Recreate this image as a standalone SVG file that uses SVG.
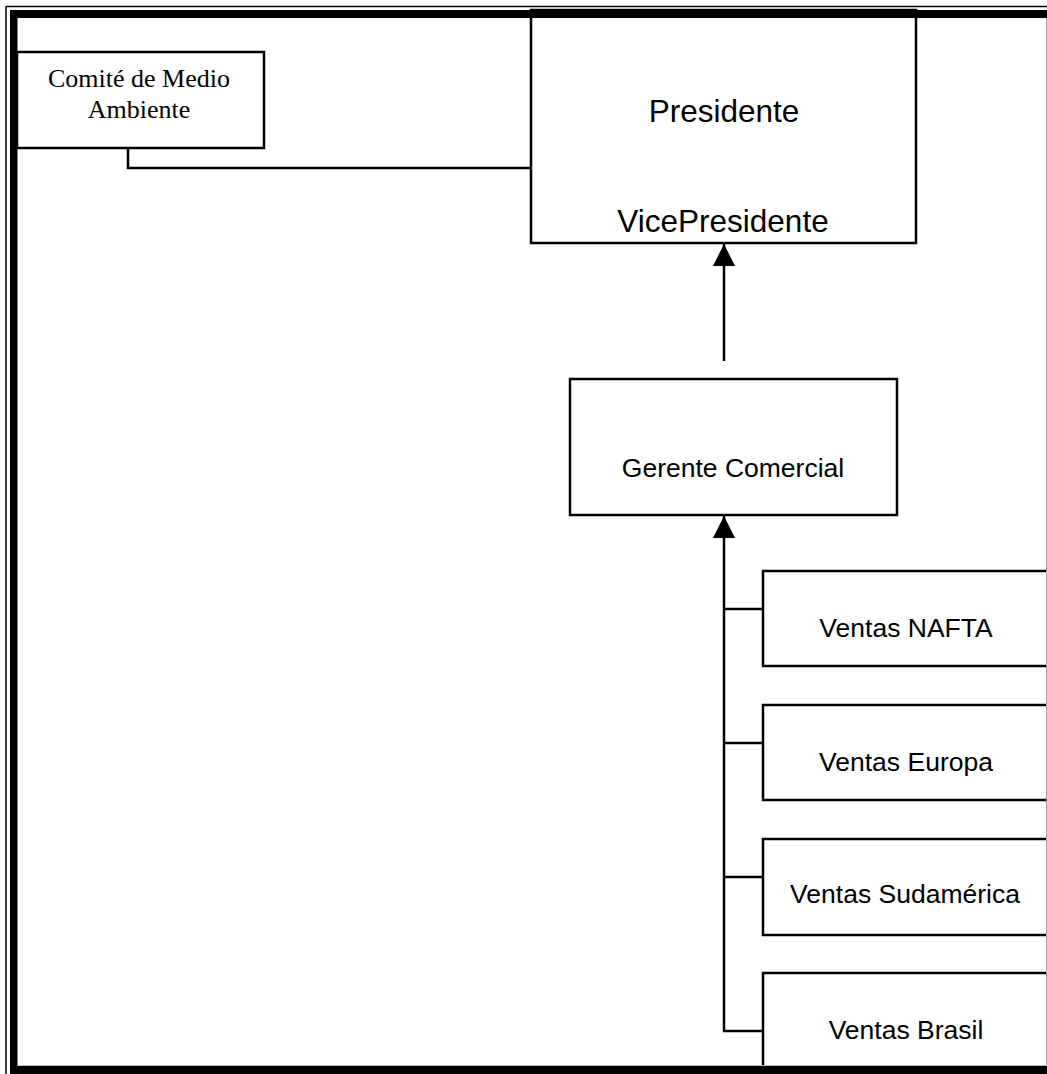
<svg xmlns="http://www.w3.org/2000/svg" width="1047" height="1074" viewBox="0 0 1047 1074">
  <style>
    .box { fill: #ffffff; stroke: #000000; stroke-width: 2.5; }
    .wire { fill: none; stroke: #000000; stroke-width: 2.5; }
    .sans { font-family: "Liberation Sans", Arial, sans-serif; fill: #000000; text-anchor: middle; }
    .serif { font-family: "Liberation Serif", "Times New Roman", serif; fill: #000000; text-anchor: middle; font-size: 26px; }
    .big { font-size: 31.5px; }
    .mid { font-size: 26.5px; }
  </style>
  <defs>
    <marker id="head" markerUnits="userSpaceOnUse" markerWidth="22" markerHeight="22" viewBox="0 0 22 22" refX="22" refY="11" orient="auto">
      <path d="M0,0 L22,11 L0,22 Z" fill="#000000"/>
    </marker>
  </defs>

  <rect x="0" y="0" width="1047" height="1074" fill="#ffffff"/>

  <!-- connectors -->
  <g id="connectors">
    <polyline class="wire" points="128,148 128,168 531,168"/>
    <line class="wire" x1="724" y1="361" x2="724" y2="244" marker-end="url(#head)"/>
    <line class="wire" x1="724" y1="1032" x2="724" y2="516" marker-end="url(#head)"/>
    <line class="wire" x1="723" y1="1031" x2="763" y2="1031"/>
    <line class="wire" x1="724" y1="609" x2="763" y2="609"/>
    <line class="wire" x1="724" y1="743" x2="763" y2="743"/>
    <line class="wire" x1="724" y1="877" x2="763" y2="877"/>
  </g>

  <!-- nodes -->
  <g id="comite">
    <rect class="box" x="17" y="52" width="247" height="96"/>
    <text class="serif" x="139" y="87">Comité de Medio</text>
    <text class="serif" x="139" y="118">Ambiente</text>
  </g>

  <g id="presidente">
    <rect class="box" x="531" y="10" width="385" height="233"/>
    <text class="sans big" x="724" y="122">Presidente</text>
    <text class="sans big" x="723" y="232">VicePresidente</text>
  </g>

  <g id="gerente-comercial">
    <rect class="box" x="570" y="379" width="327" height="136"/>
    <text class="sans mid" x="733" y="477">Gerente Comercial</text>
  </g>

  <g id="ventas-nafta">
    <rect class="box" x="763" y="571" width="300" height="95"/>
    <text class="sans mid" x="906" y="637">Ventas NAFTA</text>
  </g>

  <g id="ventas-europa">
    <rect class="box" x="763" y="705" width="300" height="95"/>
    <text class="sans mid" x="906" y="771">Ventas Europa</text>
  </g>

  <g id="ventas-sudamerica">
    <rect class="box" x="763" y="839" width="300" height="96"/>
    <text class="sans mid" x="905" y="903">Ventas Sudamérica</text>
  </g>

  <g id="ventas-brasil">
    <rect class="box" x="763" y="973" width="300" height="120"/>
    <text class="sans mid" x="906" y="1039">Ventas Brasil</text>
  </g>

  <!-- page frame -->
  <g id="frame">
    <line x1="6" y1="6.5" x2="1047" y2="6.5" stroke="#000000" stroke-width="1.5"/>
    <line x1="6" y1="6" x2="6" y2="1074" stroke="#000000" stroke-width="1.5"/>
    <rect x="10" y="10" width="1037" height="8" fill="#000000"/>
    <rect x="10" y="10" width="7.5" height="1064" fill="#000000"/>
    <rect x="10" y="1066" width="1037" height="8" fill="#000000"/>
    <line x1="1046.5" y1="18" x2="1046.5" y2="1066" stroke="#999999" stroke-width="1"/>
    <line x1="17.5" y1="1065.5" x2="1047" y2="1065.5" stroke="#bbbbbb" stroke-width="1"/>
  </g>
</svg>
